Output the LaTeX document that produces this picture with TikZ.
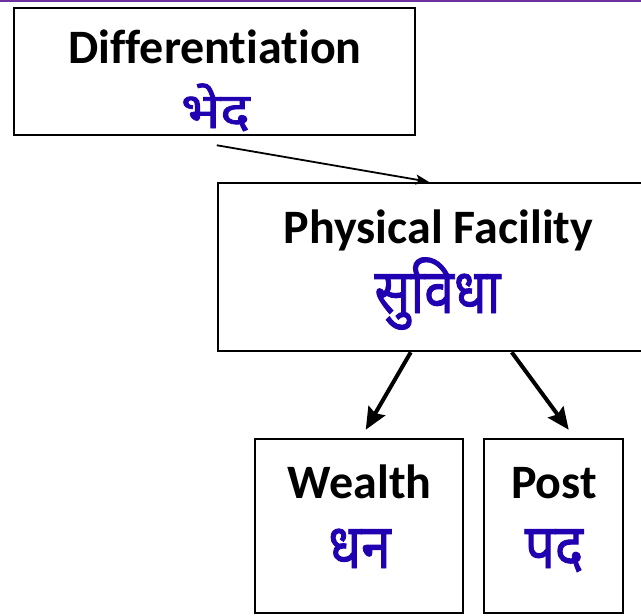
\documentclass[tikz,border=0pt]{standalone}
\usepackage{fontspec}
\setmainfont{Carlito}[Ligatures=NoCommon]
\newfontfamily\deva[Script=Devanagari,FakeBold=1.5]{Noto Sans}
\usetikzlibrary{arrows.meta,calc}
\definecolor{hindiblue}{RGB}{32,0,176}
\definecolor{topline}{RGB}{112,48,160}
\tikzset{
  box/.style={draw=black,line width=2.5pt,fill=white,inner sep=0pt},
  eng/.style={font=\fontsize{48}{52}\selectfont\bfseries,anchor=base,inner sep=0pt},
  hin/.style={font=\fontsize{62}{66}\selectfont\deva,text=hindiblue,anchor=base,inner sep=0pt},
  thinarrow/.style={line width=1.8pt,-{Stealth[length=13pt,width=10pt,inset=3pt]}},
  thickarrow/.style={line width=4pt,-{Stealth[length=22pt,width=19pt,inset=3pt]}}
}
\begin{document}
\begin{tikzpicture}[x=1pt,y=-1pt]
\useasboundingbox (0,0) rectangle (641,616);
\fill[white] (0,0) rectangle (641,616);
\draw[topline,line width=2pt] (0,1) -- (641,1);
% boxes
\node[box,minimum width=401pt,minimum height=127pt] (diff) at (214.5,71.5) {};
\node[box,minimum width=430pt,minimum height=168pt] (pf) at (433,267) {};
\node[box,minimum width=208pt,minimum height=174pt] (wl) at (359,526) {};
\node[box,minimum width=139pt,minimum height=174pt] (ps) at (553.5,526) {};
% texts
\node[eng] (t1) at (215,63) {Differentiation};
\node[hin] (h1) at (215.5,128) {\scalebox{0.9}[0.8]{भेद}};
\node[eng] (t2) at (438.5,243) {Physical Facility};
\node[hin] (h2) at (437.5,313) {\scalebox{0.86}[1]{सुविधा}};
\node[eng] (t3) at (359.5,498) {Wealth};
\node[hin] (h3) at (359.5,568) {\scalebox{0.86}[1]{धन}};
\node[eng] (t4) at (554,498) {Post};
\node[hin] (h4) at (554,568) {\scalebox{0.86}[1]{पद}};
% connectors
\coordinate (a1) at ($(diff.south west)+(204,9)$);
\coordinate (a2) at ($(pf.north west)+(212,0)$);
\draw[thinarrow] (a1) -- (a2);
\coordinate (b1) at ($(pf.south west)+(194,0)$);
\coordinate (b2) at ($(wl.north west)+(112,-8)$);
\draw[thickarrow] (b1) -- (b2);
\coordinate (c1) at ($(pf.south west)+(295,0)$);
\coordinate (c2) at ($(ps.north west)+(86,-8)$);
\draw[thickarrow] (c1) -- (c2);
\end{tikzpicture}
\end{document}
